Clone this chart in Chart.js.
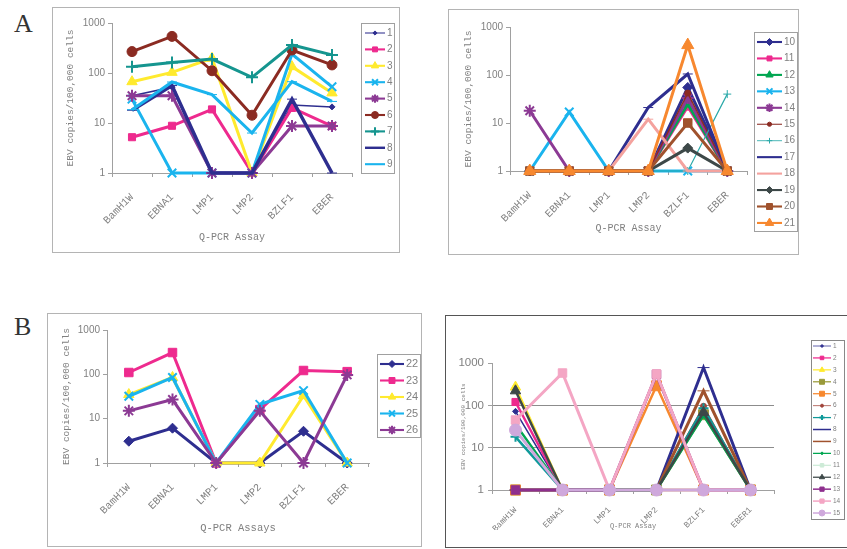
<!DOCTYPE html>
<html>
<head>
<meta charset="utf-8">
<script src="https://cdn.jsdelivr.net/npm/chart.js@4.4.0/dist/chart.umd.min.js"></script>
<style>
  body { margin: 0; background: #fff; width: 847px; height: 549px; overflow: hidden; position: relative; }
  canvas { position: absolute; left: 0; top: 0; }
  .box { position: absolute; box-sizing: border-box; border: 1.5px solid #b4b4b4; }
  .letter { position: absolute; font: 26px "Liberation Serif", serif; color: #333; }
</style>
</head>
<body>
<div class="letter" style="left:14px;top:9px">A</div>
<div class="letter" style="left:14px;top:312px">B</div>
<div class="box" style="left:52px;top:7px;width:348px;height:246px"></div>
<div class="box" style="left:448px;top:9px;width:351px;height:246px"></div>
<div class="box" style="left:47px;top:313px;width:375px;height:234px"></div>
<div class="box" style="left:445px;top:315px;width:410px;height:233px;border-color:#555"></div>
<canvas id="chartA1" width="847" height="549"></canvas>
<canvas id="chartA2" width="847" height="549"></canvas>
<canvas id="chartB1" width="847" height="549"></canvas>
<canvas id="chartB2" width="847" height="549"></canvas>
<script>
// === DONNÉES ===
const ASSAYS = ["BamH1W", "EBNA1", "LMP1", "LMP2", "BZLF1", "EBER"];
const ASSAYS_B2 = ["BamH1W", "EBNA1", "LMP1", "LMP2", "BZLF1", "EBER1"];
const Y_TICKS = [1, 10, 100, 1000];

// panneau A gauche : échantillons 1-9
const A1_NAMES = ["1", "2", "3", "4", "5", "6", "7", "8", "9"];
const A1_VALUES = [
  [35, 52, 1, 1, 23, 21],
  [5.2, 8.8, 18.7, 1, 20, 8.7],
  [67, 103, 197, 1, 134, 40],
  [30, 1, 1, 1, 240, 53],
  [35, 35, 1, 1, 8.7, 8.7],
  [268, 540, 111, 14.3, 288, 145],
  [134, 162, 190, 82, 363, 230],
  [18, 56, 1, 1, 30, 1],
  [18.5, 66, 37, 6.3, 67, 27]
];

// panneau A droite : échantillons 10-21
const A2_NAMES = ["10", "11", "12", "13", "14", "15", "16", "17", "18", "19", "20", "21"];
const A2_VALUES = [
  [1, 1, 1, 1, 55, 1],
  [1, 1, 1, 1, 22, 1],
  [1, 1, 1, 1, 25, 1],
  [1, 17, 1, 1, 1, 1],
  [18, 1, 1, 1, 33, 1],
  [1, 1, 1, 1, 42, 1],
  [1, 1, 1, 1, 1, 40],
  [1, 1, 1, 21, 105, 1],
  [1, 1, 1, 12, 1, 1],
  [1, 1, 1, 1, 3, 1],
  [1, 1, 1, 1, 10, 1],
  [1, 1, 1, 1, 420, 1]
];

// panneau B gauche : échantillons 22-26
const B1_NAMES = ["22", "23", "24", "25", "26"];
const B1_VALUES = [
  [3.1, 6.1, 1, 1, 5.2, 1],
  [110, 310, 1, 16, 122, 115],
  [35, 85, 1, 1, 33, 1],
  [32, 85, 1, 21, 43, 1],
  [15, 27, 1, 15, 1, 97]
];

// panneau B droite : échantillons 1-15
const B2_NAMES = ["1", "2", "3", "4", "5", "6", "7", "8", "9", "10", "11", "12", "13", "14", "15"];
const B2_VALUES = [
  [72, 1, 1, 1, 1, 1],
  [120, 1, 1, 1, 1, 1],
  [270, 1, 1, 1, 1, 1],
  [1, 1, 1, 1, 60, 1],
  [1, 1, 1, 290, 1, 1],
  [1, 1, 1, 1, 95, 1],
  [18, 1, 1, 1, 85, 1],
  [1, 1, 1, 1, 780, 1],
  [1, 1, 1, 1, 220, 1],
  [36, 1, 1, 1, 58, 1],
  [1, 1, 1, 1, 1, 1],
  [220, 1, 1, 1, 68, 1],
  [1, 1, 1, 540, 1, 1],
  [45, 580, 1, 550, 1, 1],
  [26, 1, 1, 1, 1, 1]
];

// === STYLES (couleur, marqueur, rayon, épaisseur) ===
const NAVY = '#2e2e8f', PINK = '#ee2a8e', YELLOW = '#ffea2e', CYAN = '#1ab4ee',
      PURPLE = '#8c3a94', BROWN = '#8b2b22', TEAL = '#15958f', GREEN = '#00a651',
      ORANGE = '#f7882f', SALMON = '#f4a29e', GREY = '#3d4848', RUST = '#a0522d';

const A1_STYLE = [
  { c: NAVY, m: 'rectRot', r: 3, w: 1.5 },
  { c: PINK, m: 'rect', r: 5, w: 3 },
  { c: YELLOW, m: 'triangle', r: 6, w: 3 },
  { c: CYAN, m: 'crossRot', r: 6, w: 3, pw: 2 },
  { c: PURPLE, m: 'star', r: 6, w: 3, pw: 2 },
  { c: BROWN, m: 'circle', r: 5, w: 3 },
  { c: TEAL, m: 'cross', r: 6, w: 3, pw: 2 },
  { c: NAVY, m: 'line', r: 5, w: 3.5 },
  { c: CYAN, m: 'line', r: 5, w: 3 }
];
const A2_STYLE = [
  { c: NAVY, m: 'rectRot', r: 5, w: 3 },
  { c: PINK, m: 'rect', r: 5, w: 3 },
  { c: GREEN, m: 'triangle', r: 6, w: 3 },
  { c: CYAN, m: 'crossRot', r: 6, w: 3, pw: 2 },
  { c: PURPLE, m: 'star', r: 6, w: 3, pw: 2 },
  { c: BROWN, m: 'circle', r: 3, w: 1.5 },
  { c: '#2aa9a9', m: 'cross', r: 4, w: 1.2, pw: 1 },
  { c: NAVY, m: 'line', r: 5, w: 3 },
  { c: SALMON, m: 'line', r: 5, w: 3 },
  { c: GREY, m: 'rectRot', r: 5, w: 3 },
  { c: RUST, m: 'rect', r: 6, w: 3 },
  { c: ORANGE, m: 'triangle', r: 7, w: 3 }
];
const B1_STYLE = [
  { c: NAVY, m: 'rectRot', r: 5, w: 3 },
  { c: PINK, m: 'rect', r: 6, w: 3 },
  { c: YELLOW, m: 'triangle', r: 6, w: 3 },
  { c: CYAN, m: 'crossRot', r: 6, w: 3, pw: 2 },
  { c: PURPLE, m: 'star', r: 6, w: 3, pw: 2 }
];
const B2_STYLE = [
  { c: NAVY, m: 'rectRot', r: 3, w: 1.5 },
  { c: PINK, m: 'rect', r: 5, w: 2.5 },
  { c: YELLOW, m: 'triangle', r: 6, w: 2.5 },
  { c: '#9a9a3a', m: 'rect', r: 7, w: 2.5 },
  { c: ORANGE, m: 'rect', r: 7, w: 2.5 },
  { c: '#a0443a', m: 'circle', r: 3, w: 1.5 },
  { c: '#0f9a9a', m: 'cross', r: 5, w: 2.5, pw: 2 },
  { c: NAVY, m: 'line', r: 6, w: 3 },
  { c: RUST, m: 'line', r: 6, w: 3 },
  { c: GREEN, m: 'rectRot', r: 3, w: 2.5 },
  { c: '#cdebd7', m: 'rect', r: 5, w: 2.5 },
  { c: GREY, m: 'triangle', r: 6, w: 2.5 },
  { c: '#8e2f8e', m: 'rect', r: 6, w: 3 },
  { c: '#f4a6c4', m: 'rect', r: 6, w: 3 },
  { c: '#cfa8dc', m: 'circle', r: 6, w: 3 }
];

const MONO = '"Liberation Mono", monospace';
const SANS = '"Liberation Sans", Arial, sans-serif';
const AXIS = '#a0a0a0';
const TXT = '#808080';

// Légende encadrée façon Excel (trait + marqueur)
const boxLegend = {
  id: 'boxLegend',
  afterDraw(chart, args, o) {
    const ctx = chart.ctx;
    ctx.save();
    ctx.strokeStyle = o.border;
    ctx.lineWidth = 1;
    ctx.strokeRect(o.x + 0.5, o.y + 0.5, o.w, o.h);
    chart.data.datasets.forEach((ds, i) => {
      const y = o.y0 + i * o.step;
      ctx.strokeStyle = ds.borderColor;
      ctx.fillStyle = ds.borderColor;
      ctx.lineWidth = ds.borderWidth * o.k;
      ctx.beginPath();
      ctx.moveTo(o.lx0, y);
      ctx.lineTo(o.lx1, y);
      ctx.stroke();
      if (ds.pointStyle !== 'line') {
        ctx.lineWidth = ds.pointBorderWidth;
        Chart.helpers.drawPoint(ctx, {
          pointStyle: ds.pointStyle, rotation: 0,
          radius: ds.pointRadius * o.k, borderWidth: ds.pointBorderWidth
        }, (o.lx0 + o.lx1) / 2, y);
      }
      ctx.fillStyle = TXT;
      ctx.font = o.font;
      ctx.textBaseline = 'middle';
      ctx.textAlign = 'left';
      ctx.fillText(ds.label, o.tx, y);
    });
    ctx.restore();
  }
};

function makeChart(id, p) {
  const datasets = p.values.map((v, i) => {
    const s = p.style[i];
    return {
      label: p.names[i],
      data: v,
      borderColor: s.c,
      backgroundColor: s.c,
      borderWidth: s.w,
      pointStyle: s.m,
      pointRadius: s.r,
      pointBorderWidth: s.pw || 1,
      pointBackgroundColor: s.c,
      pointBorderColor: s.c,
      tension: 0,
      clip: false,
      order: -i
    };
  });

  return new Chart(document.getElementById(id), {
    type: 'line',
    data: { labels: p.labels, datasets },
    plugins: [boxLegend],
    options: {
      responsive: false,
      animation: false,
      events: [],
      layout: {
        padding: {
          left: p.plot.l - p.yW,
          top: p.plot.t,
          right: 847 - p.plot.r,
          bottom: 549 - p.plot.b - p.xH
        }
      },
      plugins: {
        legend: { display: false },
        tooltip: { enabled: false },
        boxLegend: p.legend
      },
      scales: {
        x: {
          offset: true,
          grid: { offset: true, drawOnChartArea: false, tickLength: 4, color: AXIS },
          border: { color: AXIS, width: 1 },
          ticks: {
            autoSkip: false, minRotation: 45, maxRotation: 45, padding: p.xPad,
            color: TXT, font: { family: MONO, size: p.xFont }
          },
          title: {
            display: true, text: p.xTitle, padding: 0,
            color: TXT, font: { family: MONO, size: p.xtFont }
          },
          afterFit: s => { s.height = p.xH; }
        },
        y: {
          type: 'logarithmic',
          min: 1,
          max: 1000,
          afterBuildTicks: s => { s.ticks = Y_TICKS.map(v => ({ value: v })); },
          ticks: {
            callback: v => String(v), padding: p.yPad,
            color: TXT, font: { family: SANS, size: p.yFont }
          },
          grid: {
            drawOnChartArea: !!p.gridLines,
            tickLength: 4,
            tickColor: AXIS,
            color: c => (p.gridLines && c.tick && (c.tick.value === 10 || c.tick.value === 100)) ? '#8c8c8c' : 'rgba(0,0,0,0)'
          },
          border: { color: AXIS, width: 1 },
          title: {
            display: true, text: 'EBV copies/100,000 cells', padding: { top: p.ytPad || 0 },
            color: TXT, font: { family: MONO, size: p.ytFont }
          },
          afterFit: s => { s.width = p.yW; }
        }
      }
    }
  });
}

makeChart('chartA1', {
  labels: ASSAYS, names: A1_NAMES, values: A1_VALUES, style: A1_STYLE,
  plot: { l: 112, t: 23, r: 352, b: 173 }, yW: 47, xH: 70,
  xFont: 10.5, xPad: 14, yFont: 10, yPad: 3, xtFont: 10, ytFont: 9.5,
  xTitle: 'Q-PCR Assay',
  legend: { x: 361, y: 23, w: 33, h: 150, lx0: 365, lx1: 385, tx: 387, y0: 33, step: 16.4, k: 0.7, font: '10px ' + SANS, border: '#a0a0a0' }
});

makeChart('chartA2', {
  labels: ASSAYS, names: A2_NAMES, values: A2_VALUES, style: A2_STYLE,
  plot: { l: 510, t: 27, r: 747, b: 171 }, yW: 47, xH: 63,
  xFont: 10.5, xPad: 14, yFont: 10, yPad: 3, xtFont: 10, ytFont: 9.5,
  xTitle: 'Q-PCR Assay',
  legend: { x: 754, y: 32, w: 43, h: 199, lx0: 757, lx1: 782, tx: 784, y0: 42, step: 16.45, k: 0.7, font: '10px ' + SANS, border: '#a0a0a0' }
});

makeChart('chartB1', {
  labels: ASSAYS, names: B1_NAMES, values: B1_VALUES, style: B1_STYLE,
  plot: { l: 107, t: 330, r: 369, b: 463 }, yW: 46, xH: 72,
  xFont: 10.5, xPad: 14, yFont: 10, yPad: 3, xtFont: 10.5, ytFont: 9.5,
  xTitle: 'Q-PCR Assays',
  legend: { x: 377, y: 354, w: 43, h: 83, lx0: 380, lx1: 404, tx: 406, y0: 364, step: 16.5, k: 0.7, font: '11px ' + SANS, border: '#a0a0a0' }
});

makeChart('chartB2', {
  labels: ASSAYS_B2, names: B2_NAMES, values: B2_VALUES, style: B2_STYLE,
  plot: { l: 492, t: 363, r: 774, b: 490 }, yW: 40, xH: 40,
  xFont: 8.5, xPad: 11, yFont: 11.5, yPad: 4, xtFont: 7, ytFont: 6, ytPad: 8,
  xTitle: 'Q-PCR Assay', gridLines: true,
  legend: { x: 811, y: 340, w: 33, h: 179, lx0: 813, lx1: 831, tx: 833, y0: 346, step: 11.93, k: 0.5, font: '6.5px ' + SANS, border: '#888' }
});
</script>
</body>
</html>
